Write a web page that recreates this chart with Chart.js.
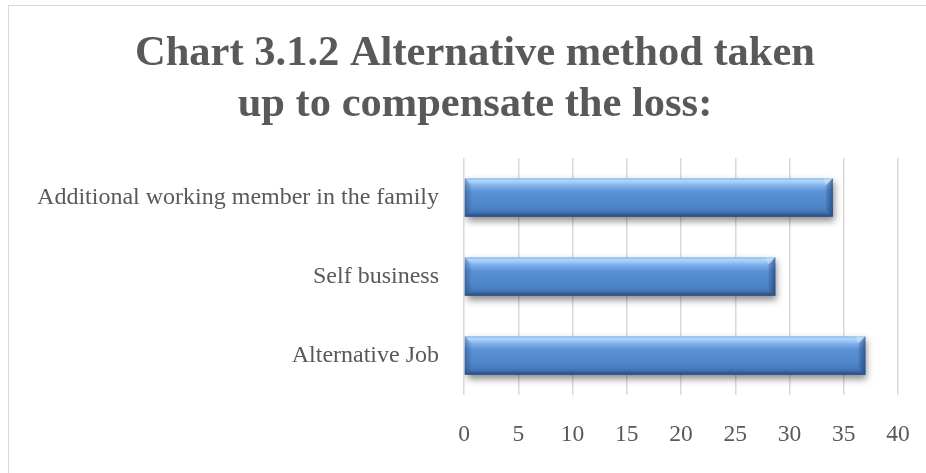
<!DOCTYPE html>
<html>
<head>
<meta charset="utf-8">
<script src="https://cdn.jsdelivr.net/npm/chart.js@4/dist/chart.umd.min.js"></script>
<style>
  html, body { margin: 0; padding: 0; background: #fff; }
  #wrap { position: relative; width: 926px; height: 473px; overflow: hidden; }
  #frame { position: absolute; left: 8px; top: 5px; width: 940px; height: 500px;
           border: 1.5px solid #d9d9d9; box-sizing: border-box; }
  canvas { position: absolute; left: 0; top: 0; }
</style>
</head>
<body>
<div id="wrap">
  <div id="frame"></div>
  <canvas id="chart" width="926" height="473"></canvas>
</div>
<script>
// chart data
const categories = ['Additional working member in the family', 'Self business', 'Alternative Job']
const values = [34, 28.7, 37]
const titleLines = ['Chart 3.1.2 Alternative method taken', 'up to compensate the loss:']
const xMin = 0
const xMax = 40
const xStep = 5

const BAR_PCT = 0.49

// vertical gradient for one bar, worked out from the category scale
function barGradient(chart, index) {
  const yScale = chart.scales.y
  if (!yScale || !chart.chartArea) return '#4f86c8'
  const center = yScale.getPixelForValue(index)
  const half = (chart.chartArea.height / categories.length) * BAR_PCT / 2
  const top = center - half
  const bottom = center + half
  const g = chart.ctx.createLinearGradient(0, top, 0, bottom)
  g.addColorStop(0, '#86b6ee')
  g.addColorStop(0.07, '#b3d6fa')
  g.addColorStop(0.2, '#7eb0ec')
  g.addColorStop(0.35, '#5b92d6')
  g.addColorStop(0.7, '#4f86ca')
  g.addColorStop(0.9, '#4578b8')
  g.addColorStop(1, '#2c5690')
  return g
}

// title sits a little right of the canvas centre in the original
const titleShift = {
  id: 'titleShift',
  afterLayout(chart) {
    const t = chart.titleBlock
    if (t) { t.left += 26; t.right += 26 }
  }
}

// shadow under the bars and darker end bevels
const bevelPlugin = {
  id: 'bevel',
  beforeDatasetsDraw(chart) {
    const ctx = chart.ctx
    ctx.save()
    ctx.shadowColor = 'rgba(0,0,0,0.45)'
    ctx.shadowBlur = 7
    ctx.shadowOffsetX = 2
    ctx.shadowOffsetY = 4
  },
  afterDatasetsDraw(chart) {
    const ctx = chart.ctx
    ctx.restore()
    const meta = chart.getDatasetMeta(0)
    meta.data.forEach(bar => {
      const top = bar.y - bar.height / 2
      const bottom = bar.y + bar.height / 2
      const right = bar.x
      const left = bar.base
      const b = 7
      // right edge
      const gr = ctx.createLinearGradient(right - b, 0, right, 0)
      gr.addColorStop(0, 'rgba(40,80,140,0.2)')
      gr.addColorStop(1, 'rgba(30,60,110,0.7)')
      ctx.fillStyle = gr
      ctx.beginPath()
      ctx.moveTo(right - b, top + b)
      ctx.lineTo(right, top)
      ctx.lineTo(right, bottom)
      ctx.lineTo(right - b, bottom - b)
      ctx.closePath()
      ctx.fill()
      // top right corner highlight
      ctx.fillStyle = 'rgba(200,228,252,0.55)'
      ctx.beginPath()
      ctx.moveTo(right - b, top + b)
      ctx.lineTo(right, top)
      ctx.lineTo(right - b - 3, top)
      ctx.closePath()
      ctx.fill()
      // left edge
      const gl = ctx.createLinearGradient(left, 0, left + b, 0)
      gl.addColorStop(0, 'rgba(30,60,110,0.45)')
      gl.addColorStop(1, 'rgba(40,80,140,0.05)')
      ctx.fillStyle = gl
      ctx.beginPath()
      ctx.moveTo(left, top)
      ctx.lineTo(left + b, top + b)
      ctx.lineTo(left + b, bottom - b)
      ctx.lineTo(left, bottom)
      ctx.closePath()
      ctx.fill()
      // bottom edge
      const gb = ctx.createLinearGradient(0, bottom - b, 0, bottom)
      gb.addColorStop(0, 'rgba(40,80,140,0)')
      gb.addColorStop(1, 'rgba(30,60,110,0.5)')
      ctx.fillStyle = gb
      ctx.beginPath()
      ctx.moveTo(left + b, bottom - b)
      ctx.lineTo(right - b, bottom - b)
      ctx.lineTo(right, bottom)
      ctx.lineTo(left, bottom)
      ctx.closePath()
      ctx.fill()
    })
  }
}

const ctx = document.getElementById('chart').getContext('2d')
new Chart(ctx, {
  type: 'bar',
  data: {
    labels: categories,
    datasets: [{
      data: values,
      backgroundColor: (c) => barGradient(c.chart, c.dataIndex),
      borderWidth: 0,
      categoryPercentage: 1,
      barPercentage: BAR_PCT
    }]
  },
  options: {
    indexAxis: 'y',
    responsive: false,
    animation: false,
    layout: { padding: { left: 0, right: 28, top: 0, bottom: 0 } },
    scales: {
      x: {
        min: xMin,
        max: xMax,
        ticks: {
          stepSize: xStep,
          color: '#595959',
          padding: 26,
          font: { family: 'Liberation Serif', size: 23.5 }
        },
        grid: { color: '#d9d9d9', lineWidth: 1.5, drawTicks: false },
        border: { display: false },
        afterFit: (scale) => {
          scale.height = 78
          scale.paddingLeft = 0
          scale.paddingRight = 0
        }
      },
      y: {
        ticks: {
          color: '#595959',
          padding: 25,
          font: { family: 'Liberation Serif', size: 24 }
        },
        grid: { display: false, drawTicks: false },
        border: { display: false },
        afterFit: (scale) => { scale.width = 464 }
      }
    },
    plugins: {
      legend: { display: false },
      tooltip: { enabled: false },
      title: {
        display: true,
        text: titleLines,
        color: '#595959',
        font: { family: 'Liberation Serif', size: 42.5, weight: 'bold', lineHeight: 1.2 },
        padding: { top: 29, bottom: 27 }
      }
    }
  },
  plugins: [bevelPlugin, titleShift]
})
</script>
</body>
</html>
